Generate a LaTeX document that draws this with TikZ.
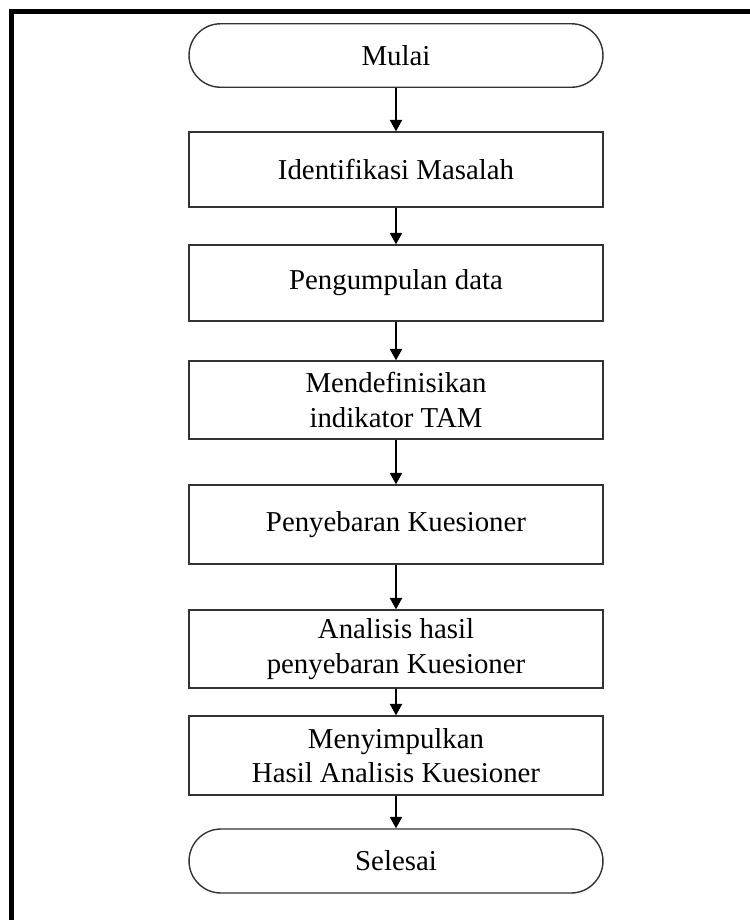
\documentclass[tikz,border=0pt]{standalone}
\usepackage{fontspec}
\setmainfont{Liberation Serif}
\usetikzlibrary{arrows.meta}

\tikzset{
  langkah/.style = {draw=black!80, line width=.8pt, minimum width=8.28cm, align=center,
                    font=\fontsize{16.4pt}{19.5pt}\selectfont},
  terminal/.style = {langkah, rectangle, rounded corners=.63cm, minimum height=1.27cm},
  proses/.style = {langkah, rectangle},
  panah/.style = {line width=.8pt, -{Triangle[length=6.5pt,width=7pt]}}
}

\begin{document}
\begin{tikzpicture}[x=0.02cm, y=-0.02cm]
\useasboundingbox (0,0) rectangle (750,920);
% bingkai
\draw[line width=2.8pt] (11.5,920) -- (11.5,11.5) -- (750,11.5);

\node[terminal] (mulai) at (396,55.5) {Mulai};
\node[proses, minimum height=1.5cm] (identifikasi) at (396,169.5) {Identifikasi Masalah};
\node[proses, minimum height=1.52cm] (pengumpulan) at (396,283) {Pengumpulan data};
\node[proses, minimum height=1.56cm] (definisi) at (396,400) {Mendefinisikan\\indikator TAM};
\node[proses, minimum height=1.58cm] (penyebaran) at (396,524.5) {Penyebaran Kuesioner};
\node[proses, minimum height=1.56cm] (analisis) at (396,649) {Analisis hasil\\penyebaran Kuesioner};
\node[proses, minimum height=1.58cm] (simpulan) at (396,755.5) {Menyimpulkan\\Hasil Analisis Kuesioner};
\node[terminal, minimum height=1.28cm, rounded corners=.64cm] (selesai) at (396,861) {Selesai};

\foreach \a/\b in {mulai/identifikasi, identifikasi/pengumpulan, pengumpulan/definisi,
                   definisi/penyebaran, penyebaran/analisis, analisis/simpulan, simpulan/selesai}
  \draw[panah] (\a) -- (\b);
\end{tikzpicture}
\end{document}
